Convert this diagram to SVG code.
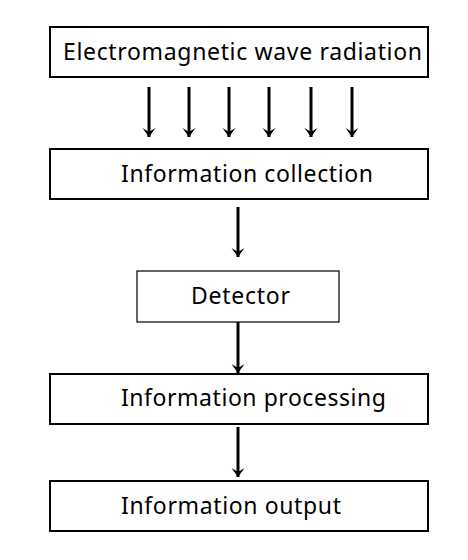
<svg xmlns="http://www.w3.org/2000/svg" width="468" height="560" viewBox="0 0 468 560">
<defs>
<style>
.box{fill:#fff;stroke:#000;stroke-width:2}
.thin{fill:#fff;stroke:#000;stroke-width:1.2}
.lbl{font-family:"Noto Sans","Open Sans","DejaVu Sans",sans-serif;font-size:23px;fill:#000}
.sh{stroke:#000;stroke-width:3;fill:none}
</style>
<marker id="ah" viewBox="-10 -7 11 14" refX="0" refY="0" markerWidth="11" markerHeight="14" markerUnits="userSpaceOnUse" orient="auto">
<path d="M0,0 L-9,-6.5 L-5,0 L-9,6.5 Z" fill="#000"/>
</marker>
</defs>
<rect width="468" height="560" fill="#fff"/>
<g id="n1"><rect class="box" x="50" y="27" width="378" height="50"/><text class="lbl" x="63" y="60" textLength="359">Electromagnetic wave radiation</text></g>
<g id="n2"><rect class="box" x="50" y="149" width="378" height="50"/><text class="lbl" x="121" y="182" textLength="252">Information collection</text></g>
<g id="n3"><rect class="thin" x="137" y="271" width="202" height="51"/><text class="lbl" x="191" y="304" textLength="99">Detector</text></g>
<g id="n4"><rect class="box" x="50" y="374" width="378" height="50"/><text class="lbl" x="121" y="406" textLength="265">Information processing</text></g>
<g id="n5"><rect class="box" x="50" y="481" width="378" height="50"/><text class="lbl" x="121" y="514" textLength="220">Information output</text></g>
<g id="connectors">
<path class="sh" d="M149,87 V137" marker-end="url(#ah)"/>
<path class="sh" d="M189,87 V137" marker-end="url(#ah)"/>
<path class="sh" d="M229,87 V137" marker-end="url(#ah)"/>
<path class="sh" d="M269,87 V137" marker-end="url(#ah)"/>
<path class="sh" d="M311,87 V137" marker-end="url(#ah)"/>
<path class="sh" d="M352,87 V137" marker-end="url(#ah)"/>
<path class="sh" d="M238,207 V257" marker-end="url(#ah)"/>
<path class="sh" d="M238,322 V373" marker-end="url(#ah)"/>
<path class="sh" d="M238,427 V477" marker-end="url(#ah)"/>
</g>
</svg>
